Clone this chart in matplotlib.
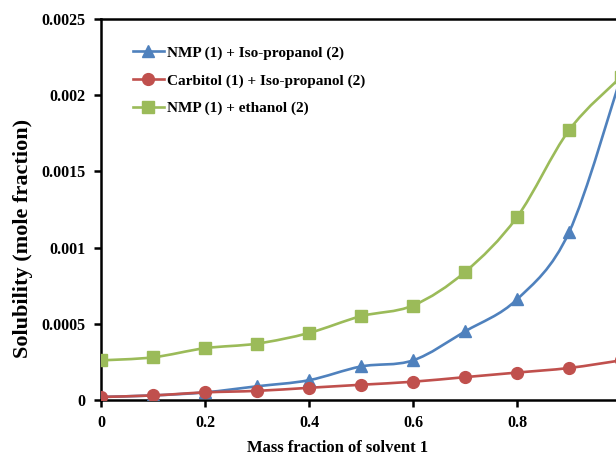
import matplotlib
matplotlib.use("Agg")
import matplotlib.pyplot as plt
from matplotlib.path import Path
from matplotlib.patches import PathPatch
from matplotlib.lines import Line2D

# mass fraction of solvent 1
mass_frac = [0.0, 0.1, 0.2, 0.3, 0.4, 0.5, 0.6, 0.7, 0.8, 0.9, 1.0]

# solubility (mole fraction)
nmp_iso = [0.00002, 0.00003, 0.00005, 0.00009, 0.00013, 0.00022, 0.00026,
           0.00045, 0.00066, 0.00110, 0.00212]
carbitol_iso = [0.00002, 0.00003, 0.00005, 0.00006, 0.00008, 0.00010, 0.00012,
                0.00015, 0.00018, 0.00021, 0.00026]
nmp_eth = [0.00026, 0.00028, 0.00034, 0.00037, 0.00044, 0.00055, 0.00062,
           0.00084, 0.00120, 0.00177, 0.00212]

labels = ["NMP (1) + Iso-propanol (2)",
          "Carbitol (1) + Iso-propanol (2)",
          "NMP (1) + ethanol (2)"]
colors = ["#4F81BD", "#C0504D", "#9BBB59"]
markers = ["^", "o", "s"]
msizes = [8, 8.5, 8.5]

x_ticks = [0, 0.2, 0.4, 0.6, 0.8]
x_tick_labels = ["0", "0.2", "0.4", "0.6", "0.8"]
y_ticks = [0, 0.0005, 0.001, 0.0015, 0.002, 0.0025]
y_tick_labels = ["0", "0.0005", "0.001", "0.0015", "0.002", "0.0025"]


def smooth_path(xs, ys):
    """Excel-style smoothed line: cubic bezier through each point."""
    pts = list(zip(xs, ys))
    n = len(pts)
    verts = [pts[0]]
    codes = [Path.MOVETO]
    for i in range(n - 1):
        p0 = pts[i - 1] if i > 0 else pts[i]
        p1 = pts[i]
        p2 = pts[i + 1]
        p3 = pts[i + 2] if i + 2 < n else pts[i + 1]
        c1 = (p1[0] + (p2[0] - p0[0]) / 6, p1[1] + (p2[1] - p0[1]) / 6)
        c2 = (p2[0] - (p3[0] - p1[0]) / 6, p2[1] - (p3[1] - p1[1]) / 6)
        verts += [c1, c2, p2]
        codes += [Path.CURVE4] * 3
    return Path(verts, codes)


plt.rcParams['font.family'] = ['Liberation Serif', 'DejaVu Serif']
plt.rcParams['font.weight'] = 'bold'

fig = plt.figure(figsize=(6.16, 4.58), dpi=100)
# the right part of the original chart is cut off at the image edge
ax = fig.add_axes([101 / 616, 58 / 458, 520 / 616, 381 / 458])

handles = []
for ys, c, m, ms, lab in zip([nmp_iso, carbitol_iso, nmp_eth], colors, markers, msizes, labels):
    patch = PathPatch(smooth_path(mass_frac, ys), facecolor='none', edgecolor=c,
                      lw=1.9, transform=ax.transData, zorder=2)
    ax.add_patch(patch)
    ax.plot(mass_frac, ys, linestyle='none', marker=m, color=c, markersize=ms, zorder=3)
    handles.append(Line2D([], [], color=c, lw=1.9, marker=m, markersize=ms, label=lab))

ax.set_xlim(0, 1.0)
ax.set_ylim(0, 0.0025)
ax.set_xticks(x_ticks)
ax.set_xticklabels(x_tick_labels)
ax.set_yticks(y_ticks)
ax.set_yticklabels(y_tick_labels)
ax.tick_params(direction='out', length=5, width=1.8, labelsize=11.5, pad=6)

for s in ax.spines.values():
    s.set_linewidth(1.8)
    s.set_color('black')

ax.set_xlabel("Mass fraction of solvent 1", fontsize=12, fontweight='bold')
ax.xaxis.set_label_coords((338 - 101) / 520, (458 - 440 - 58) / 381)
ax.set_ylabel("Solubility (mole fraction)", fontsize=16, fontweight='bold')
ax.yaxis.set_label_coords((13 - 101) / 520, (458 - 238 - 58) / 381)
ax.yaxis.label.set_ha('center')
ax.yaxis.label.set_va('top')

ax.legend(handles=handles, loc='upper left', bbox_to_anchor=(0.035, 0.965),
          frameon=False, fontsize=11, handlelength=2.0, handletextpad=0.2,
          labelspacing=0.9)

fig.savefig("out.png", dpi=100)
